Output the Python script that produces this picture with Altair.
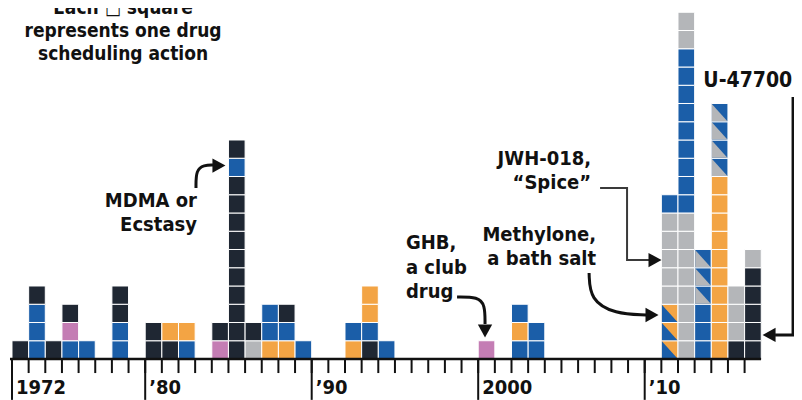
import altair as alt
import pandas as pd

# ---------------- data ----------------
years = [1972, 1973, 1974, 1975, 1976, 1978, 1980, 1981, 1982, 1984, 1985, 1986,
         1987, 1988, 1989, 1992, 1993, 1994, 2000, 2002, 2003,
         2011, 2012, 2013, 2014, 2015, 2016]
# squares per year, bottom to top
# N navy, B blue, O orange, G gray, P pink,
# T orange/blue split square, S blue/gray split square
stacks = ["N", "BBBN", "N", "BPN", "B", "BBNN", "NN", "NO", "BO", "PN",
          "NNNNNNNNNNBN", "GN", "OBB", "OBN", "B", "OB", "NBOO", "B", "P",
          "BOB", "BB", "TTTGGGGGB", "GGGGGGGGBBBBBBBBBGG", "BBBSSS",
          "OOOOOOOOOOSSSS", "NGGG", "NNNNNG"]

kind_names = ["navy", "blue", "orange", "gray", "pink"]
kind_colors = ["#1f2733", "#1b5ea8", "#f3a444", "#b4b6b9", "#c47db4"]
code_base = {"N": "navy", "B": "blue", "O": "orange", "G": "gray",
             "P": "pink", "T": "orange", "S": "blue"}
code_tri = {"T": "blue", "S": "gray"}

tick_years = list(range(1972, 2017))
major_years = [1972, 1980, 1990, 2000, 2010]
major_labels = ["1972", "\u201980", "\u201990", "2000", "\u201910"]

note_lines = ["Each \u25a1 square", "represents one drug", "scheduling action"]
note_x = [1978.67, 1978.67, 1978.67]
note_y = [18.92, 17.66, 16.40]

right_text = ["MDMA or", "Ecstasy", "JWH-018,", "\u201cSpice\u201d", "Methylone,", "a bath salt"]
right_x = [1983.11, 1983.11, 2006.78, 2006.78, 2007.08, 2007.08]
right_y = [8.33, 7.04, 10.62, 9.30, 6.45, 5.13]

left_text = ["GHB,", "a club", "drug"]
left_x = [1995.66, 1995.66, 1995.66]
left_y = [6.02, 4.68, 3.35]

u_text = ["U-47700"]
u_x = [2013.52]
u_y = [14.90]

curve_path = ["mdma"] * 4 + ["ghb"] * 4 + ["methylone"] * 4
curve_x = [1983.05, 1983.05, 1983.53, 1984.07,
           1998.73, 1999.99, 2000.41, 2000.41,
           2006.66, 2006.72, 2008.22, 2010.08]
curve_y = [9.37, 10.36, 10.63, 10.63,
           3.40, 3.40, 2.96, 1.92,
           4.71, 3.23, 2.47, 2.41]

elbow_path = ["jwh"] * 4
elbow_x = [2007.32, 2008.94, 2008.94, 2010.32]
elbow_y = [9.37, 9.37, 5.42, 5.42]

bracket_path = ["u"] * 3
bracket_x = [2018.91, 2018.91, 2017.83]
bracket_y = [14.36, 1.32, 1.32]

head_dir = ["right", "down", "right", "right", "left"]
head_x = [1984.43, 2000.41, 2010.44, 2010.62, 2017.47]
head_y = [10.60, 1.53, 2.41, 5.42, 1.32]

# ---------------- tables ----------------
sq_rows, tri_rows = [], []
for yr, st in zip(years, stacks):
    for lvl, c in enumerate(st):
        sq_rows.append({"year": yr, "level": lvl, "kind": code_base[c]})
        if c in code_tri:
            tri_rows.append({"year": yr, "level": lvl, "kind": code_tri[c]})
squares = pd.DataFrame(sq_rows)
tris = pd.DataFrame(tri_rows)

ticks = pd.DataFrame({"year": tick_years})
majors = pd.DataFrame({"year": major_years, "label": major_labels})
span = pd.DataFrame({"start": [tick_years[0]], "end": [tick_years[-1] + 1]})

FONT = "DejaVu Sans Condensed, DejaVu Sans, sans-serif"
X = alt.Scale(domain=[1971.76, 2018.967], nice=False, zero=False)
Y = alt.Scale(domain=[-2.247, 19.233], nice=False, zero=False)
COL = alt.Scale(domain=kind_names, range=kind_colors)

def xq(f):
    return alt.X(f, type="quantitative", scale=X, axis=None)

def yq(f):
    return alt.Y(f, type="quantitative", scale=Y, axis=None)

rects = alt.Chart(squares).transform_calculate(
    x2="datum.year + 1", y2="datum.level + 1"
).mark_rect(stroke="white", strokeWidth=1).encode(
    x=xq("year"), x2="x2:Q", y=yq("level"), y2="y2:Q",
    color=alt.Color("kind:N", scale=COL, legend=None),
)

TRI = "M-1,-1.103L-1,1.103L1,1.103Z"
triangles = alt.Chart(tris).transform_calculate(
    xc="datum.year + 0.5", yc="datum.level + 0.5"
).mark_point(shape=TRI, size=243, filled=True, opacity=1, strokeWidth=0).encode(
    x=xq("xc"), y=yq("yc"),
    color=alt.Color("kind:N", scale=COL, legend=None),
)

minor_ticks = alt.Chart(ticks).transform_calculate(
    y0="0", y1="-0.77"
).mark_rule(color="#111", strokeWidth=2).encode(
    x=xq("year"), y=yq("y0"), y2="y1:Q"
)
major_ticks = alt.Chart(majors).transform_calculate(
    y0="0", y1="-2.24"
).mark_rule(color="#111", strokeWidth=2).encode(
    x=xq("year"), y=yq("y0"), y2="y1:Q"
)
axis_line = alt.Chart(span).transform_calculate(
    s="datum.start - 0.12", e="datum.end - 0.01", y0="0"
).mark_rule(color="#111", strokeWidth=2.5).encode(
    x=xq("s"), x2="e:Q", y=yq("y0")
)
axis_labels = alt.Chart(majors).transform_calculate(
    yl="-1.94"
).mark_text(align="left", baseline="alphabetic", dx=4, font=FONT,
            fontSize=20, fontWeight="bold", color="#111").encode(
    x=xq("year"), y=yq("yl"), text="label:N"
)

def text_layer(txt, xs, ys, align, size):
    df = pd.DataFrame({"t": txt, "x": xs, "y": ys})
    return alt.Chart(df).mark_text(
        align=align, baseline="alphabetic", font=FONT, fontSize=size,
        fontWeight="bold", color="#111"
    ).encode(x=xq("x"), y=yq("y"), text="t:N")

note = text_layer(note_lines, note_x, note_y, "center", 19)
rtext = text_layer(right_text, right_x, right_y, "right", 20)
ltext = text_layer(left_text, left_x, left_y, "left", 20)
utext = text_layer(u_text, u_x, u_y, "left", 21)

def path_layer(names, xs, ys, interp, width, color):
    df = pd.DataFrame({"p": names, "x": xs, "y": ys, "i": list(range(len(xs)))})
    return alt.Chart(df).mark_line(
        interpolate=interp, strokeWidth=width, color=color
    ).encode(x=xq("x"), y=yq("y"), detail="p:N", order="i:Q")

curves = path_layer(curve_path, curve_x, curve_y, "basis", 3, "#111")
elbow = path_layer(elbow_path, elbow_x, elbow_y, "linear", 2, "#3a3a3a")
bracket = path_layer(bracket_path, bracket_x, bracket_y, "linear", 3, "#111")

SHAPES = {"right": "M-1,-1.1L1,0L-1,1.1Z",
          "down": "M-1.1,-1L1.1,-1L0,1Z",
          "left": "M1,-1.1L-1,0L1,1.1Z"}
heads_df = pd.DataFrame({"d": head_dir, "x": head_x, "y": head_y})
head_layers = []
for d, shp in SHAPES.items():
    head_layers.append(
        alt.Chart(heads_df).transform_filter(f"datum.d == '{d}'").mark_point(
            shape=shp, size=169, filled=True, opacity=1, strokeWidth=0, color="#111"
        ).encode(x=xq("x"), y=yq("y"))
    )

chart = alt.layer(
    rects, triangles, axis_line, minor_ticks, major_ticks, axis_labels,
    note, rtext, ltext, utext, curves, elbow, bracket, *head_layers
).properties(
    width=786, height=392, padding=0,
    autosize=alt.AutoSizeParams(type="none"), background="white"
).configure_view(stroke=None)

chart.save("out.html", embed_options={"renderer": "svg", "actions": False})
